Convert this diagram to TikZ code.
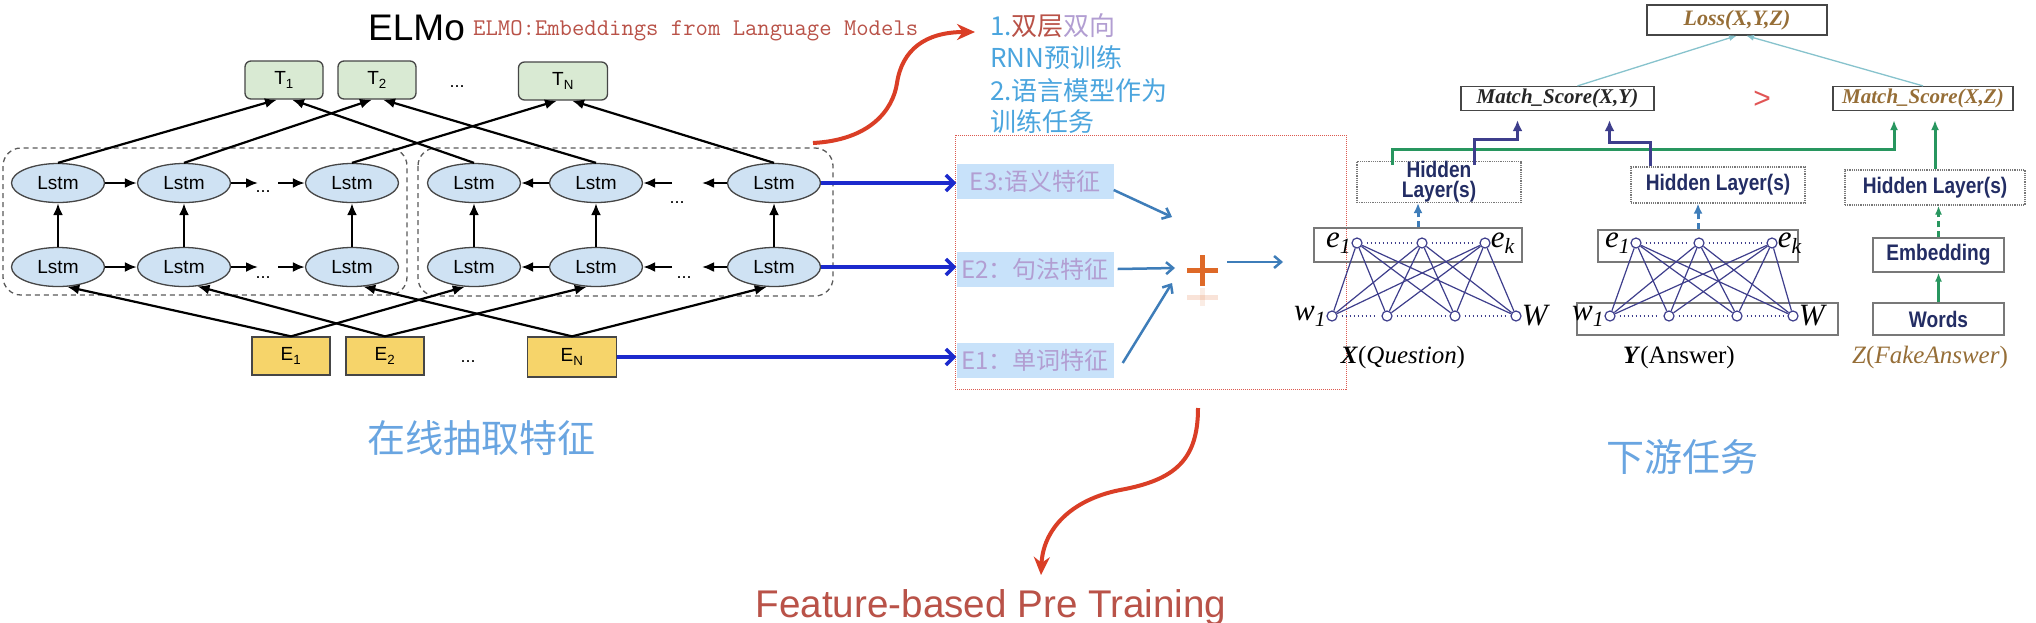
\documentclass[tikz,border=0pt]{standalone}
\usepackage{fontspec}
\usetikzlibrary{shapes.geometric,arrows.meta,calc}
\newfontfamily\arialf{Liberation Sans}
\newfontfamily\narrowf[FakeStretch=0.85]{Liberation Sans}
\newfontfamily\cjkf{Noto Sans CJK SC}
\newfontfamily\serf{Liberation Serif}
\newcommand\fsz[1]{\fontsize{#1}{#1}\selectfont}
\definecolor{lstmfill}{RGB}{207,226,243}
\definecolor{tfill}{RGB}{217,234,211}
\definecolor{efill}{RGB}{246,212,106}
\definecolor{edgec}{RGB}{70,70,70}
\definecolor{grpc}{RGB}{90,90,90}
\definecolor{bluea}{RGB}{28,42,205}
\definecolor{steel}{RGB}{62,125,185}
\definecolor{redarr}{RGB}{218,62,38}
\definecolor{redtxt}{RGB}{185,82,72}
\definecolor{lav}{RGB}{178,158,210}
\definecolor{skyb}{RGB}{75,165,222}
\definecolor{cnblue}{RGB}{105,165,225}
\definecolor{ebg}{RGB}{200,226,250}
\definecolor{navy}{RGB}{62,62,140}
\definecolor{greena}{RGB}{40,150,95}
\definecolor{tealc}{RGB}{135,195,205}
\definecolor{brownt}{RGB}{150,110,55}
\definecolor{boxg}{RGB}{120,120,120}
\definecolor{orangep}{RGB}{222,105,40}
\definecolor{pinkr}{RGB}{225,85,85}
\definecolor{hiddenc}{RGB}{35,45,100}
\definecolor{redbox}{RGB}{220,90,80}
\begin{document}
\begin{tikzpicture}[x=1pt,y=-1pt,
  lstm/.style={ellipse,draw=edgec,line width=1.3pt,fill=lstmfill,minimum width=93pt,minimum height=39pt,inner sep=0pt,font=\arialf\fsz{19}},
  tbox/.style={rectangle,rounded corners=6pt,draw=edgec,line width=1.3pt,fill=tfill,minimum width=78pt,minimum height=38pt,inner sep=0pt,font=\arialf\fsz{19}},
  ebox/.style={rectangle,draw=edgec,line width=1.3pt,fill=efill,minimum width=78pt,minimum height=38pt,inner sep=0pt,font=\arialf\fsz{19}},
  dotsn/.style={inner sep=0pt,font=\arialf\fsz{18}},
  grp/.style={draw=grpc,dash pattern=on 5pt off 4pt,line width=1.3pt,rounded corners=18pt},
  arr/.style={-{Latex[length=12pt,width=10pt]},line width=2.2pt,black},
  bluearr/.style={-{Straight Barb[length=8pt,width=16pt]},line width=3.5pt,bluea},
  steelarr/.style={-{Straight Barb[length=7pt,width=12pt]},line width=2.5pt,steel},
  redcurve/.style={-{Stealth[length=18pt,width=16pt]},line width=4pt,redarr},
  featbox/.style={rectangle,fill=ebg,minimum width=157pt,minimum height=35pt,inner sep=0pt,text=lav,font=\cjkf\fsz{24}},
  sbox/.style={rectangle,draw=edgec,line width=1.2pt,fill=white,inner sep=0pt,minimum height=24pt},
  hbox/.style={rectangle,draw=boxg,densely dotted,line width=1.2pt,fill=white,inner sep=0pt,text=hiddenc,font=\narrowf\bfseries\fsz{22.5},align=center},
  nbox/.style={rectangle,draw=boxg,line width=1.2pt,inner sep=0pt},
  wbox/.style={rectangle,draw=boxg,line width=1.2pt,fill=white,inner sep=0pt,text=hiddenc,font=\narrowf\bfseries\fsz{22.5}},
  circ/.style={circle,draw=navy,line width=1.2pt,fill=white,minimum size=10pt,inner sep=0pt},
  net/.style={navy,line width=1.2pt},
  dotl/.style={navy,line width=1.6pt,dash pattern=on 1.5pt off 2.5pt,shorten >=4pt,shorten <=4pt},
  lbl/.style={inner sep=0pt,font=\serf\itshape\fsz{31}},
  navyarr/.style={-{Latex[length=11pt,width=10pt]},line width=3pt,navy,shorten >=9pt},
  greenarr/.style={-{Latex[length=10pt,width=8pt]},line width=3pt,greena,shorten >=9pt},
  tealarr/.style={-{Latex[length=8pt,width=6pt]},line width=1.3pt,tealc},
]
\fill[white] (0,0) rectangle (2036,622);
\useasboundingbox (0,0) rectangle (2036,622);

% ---------------- ELMo ----------------
\node[anchor=base west,inner sep=0pt,font=\arialf\fsz{37}] (elmo) at (368,40) {ELMo};
\node[anchor=base west,inner sep=0pt,font=\ttfamily\fsz{24},text=redtxt] (elmosub) at (473,35) {ELMO:Embeddings from Language Models};

\draw[grp] (3,148) rectangle (407,295);
\draw[grp] (418,148) rectangle (833,296);

\node[tbox] (T1) at (284,80) {T\textsubscript{1}};
\node[tbox] (T2) at (377,80) {T\textsubscript{2}};
\node[dotsn] (td) at (457,87) {...};
\node[tbox,minimum width=89pt] (TN) at (563,81) {T\textsubscript{N}};

\node[lstm] (L1) at (58,183) {Lstm};
\node[lstm] (L2) at (184,183) {Lstm};
\node[lstm] (L3) at (352,183) {Lstm};
\node[lstm] (R1) at (474,183) {Lstm};
\node[lstm] (R2) at (596,183) {Lstm};
\node[lstm] (R3) at (774,183) {Lstm};
\node[lstm] (LB1) at (58,267) {Lstm};
\node[lstm] (LB2) at (184,267) {Lstm};
\node[lstm] (LB3) at (352,267) {Lstm};
\node[lstm] (RB1) at (474,267) {Lstm};
\node[lstm] (RB2) at (596,267) {Lstm};
\node[lstm] (RB3) at (774,267) {Lstm};

\node[dotsn] (ld1) at (263,192) {...};
\node[dotsn] (ld2) at (263,278) {...};
\node[dotsn] (rd1) at (677,203) {...};
\node[dotsn] (rd2) at (684,278) {...};

\node[ebox] (E1) at (291,356) {E\textsubscript{1}};
\node[ebox] (E2) at (385,356) {E\textsubscript{2}};
\node[dotsn] (ed) at (468,362) {...};
\node[ebox,minimum width=89pt,minimum height=40pt] (EN) at (572,357) {E\textsubscript{N}};

% horizontal arrows
\coordinate (la1) at (258,183); \coordinate (la2) at (278,183);
\coordinate (lb1) at (258,267); \coordinate (lb2) at (278,267);
\coordinate (ra1) at (672,183); \coordinate (ra2) at (702,183);
\coordinate (rb1) at (672,267); \coordinate (rb2) at (702,267);
\draw[arr] (L1) -- (L2);
\draw[arr] (L2) -- (la1);
\draw[arr] (la2) -- (L3);
\draw[arr] (LB1) -- (LB2);
\draw[arr] (LB2) -- (lb1);
\draw[arr] (lb2) -- (LB3);
\draw[arr] (R2) -- (R1);
\draw[arr] (ra1) -- (R2);
\draw[arr] (R3) -- (ra2);
\draw[arr] (RB2) -- (RB1);
\draw[arr] (rb1) -- (RB2);
\draw[arr] (RB3) -- (rb2);
% vertical arrows
\foreach \c in {1,2,3} {
  \draw[arr] (LB\c) -- (L\c);
  \draw[arr] (RB\c) -- (R\c);
}
% E -> Lstm
\draw[arr] (E1.north) -- (LB1.-65);
\draw[arr] (E1.north) -- (RB1.-115);
\draw[arr] (E2.north) -- (LB2.-55);
\draw[arr] (E2.north) -- (RB2.-115);
\draw[arr] (EN.north) -- (LB3.-60);
\draw[arr] (EN.north) -- (RB3.-110);
% Lstm -> T
\draw[arr] (L1.north) -- ($(T1.south)+(-7,0)$);
\draw[arr] (R1.north) -- ($(T1.south)+(8,0)$);
\draw[arr] (L2.north) -- ($(T2.south)+(-5,0)$);
\draw[arr] (R2.north) -- ($(T2.south)+(6,0)$);
\draw[arr] (L3.north) -- ($(TN.south)+(-6,0)$);
\draw[arr] (R3.north) -- ($(TN.south)+(9,0)$);

% ---------------- middle ----------------
\node[anchor=base west,inner sep=0pt,font=\cjkf\fsz{26},text=skyb] (n1) at (990,35) {1.\textcolor{redtxt}{双层}\textcolor{lav}{双向}};
\node[anchor=base west,inner sep=0pt,font=\cjkf\fsz{26},text=skyb] (n2) at (990,67) {RNN预训练};
\node[anchor=base west,inner sep=0pt,font=\cjkf\fsz{26},text=skyb] (n3) at (990,100) {2.语言模型作为};
\node[anchor=base west,inner sep=0pt,font=\cjkf\fsz{26},text=skyb] (n4) at (990,131) {训练任务};

\draw[redbox,line width=1pt,densely dotted] (955,135) rectangle (1346,389);

\node[featbox] (E3b) at (1035,181) {E3:语义特征};
\node[featbox] (E2b) at (1035,269) {E2：句法特征};
\node[featbox] (E1b) at (1035,360) {E1：单词特征};

\draw[bluearr] (R3.east) -- (R3.east -| E3b.west);
\draw[bluearr] (RB3.east) -- (RB3.east -| E2b.west);
\draw[bluearr] (EN.east) -- (EN.east -| E1b.west);

\coordinate (plus) at (1202,270);
\draw[orangep,line width=5pt] (1187,270) -- (1218,270);
\draw[orangep,line width=5pt] (1202,255) -- (1202,286);
\draw[orangep,line width=5pt,opacity=0.18] (1187,297) -- (1218,297);
\draw[orangep,line width=5pt,opacity=0.12] (1202,288) -- (1202,306);

\coordinate (p3) at (1172,217);
\coordinate (p2) at (1175,268);
\coordinate (p1) at (1172,283);
\draw[steelarr] ($(E3b.east)+(0,9)$) -- (p3);
\draw[steelarr] ($(E2b.east)+(4,0)$) -- (p2);
\draw[steelarr] ($(E1b.east)+(9,3)$) -- (p1);
\coordinate (po1) at (1227,262);
\coordinate (po2) at (1283,262);
\draw[steelarr] (po1) -- (po2);

\coordinate (rc1) at (813,143);
\coordinate (rc2) at (975,32);
\draw[redcurve] (rc1) .. controls (870,140) and (893,110) .. (897,83) .. controls (902,50) and (925,32) .. (rc2);
\coordinate (rc3) at (1198,408);
\coordinate (rc4) at (1041,575);
\draw[redcurve] (rc3) .. controls (1198,460) and (1175,480) .. (1120,490) .. controls (1070,500) and (1043,530) .. (rc4);

\node[anchor=base,inner sep=0pt,font=\arialf\fsz{38.6},text=redtxt] (fb) at (991,617) {Feature-based Pre Training};
\node[inner sep=0pt,font=\cjkf\fsz{38},text=cnblue] (zx) at (481,438) {在线抽取特征};
\node[inner sep=0pt,font=\cjkf\fsz{38},text=cnblue] (xy) at (1682,457) {下游任务};

% ---------------- right ----------------
\node[sbox,minimum width=180pt,minimum height=30pt,text=brownt,font=\serf\bfseries\itshape\fsz{22}] (loss) at (1737,20) {Loss(X,Y,Z)};
\node[sbox,minimum width=193pt,text=black!85,font=\serf\bfseries\itshape\fsz{21}] (msxy) at (1557.5,98.5) {Match\_Score(X,Y)};
\node[sbox,minimum width=180pt,text=brownt,font=\serf\bfseries\itshape\fsz{21}] (msxz) at (1923,98.5) {Match\_Score(X,Z)};
\node[inner sep=0pt,text=pinkr,font=\arialf\fsz{30}] (gt) at (1762,100) {>};

\draw[tealarr] ($(msxy.north)+(20,0)$) -- (loss.south);
\draw[tealarr] (msxz.north) -- ($(loss.south)+(9,0)$);

\node[hbox,minimum width=164pt,minimum height=37pt,font=\narrowf\bfseries\fontsize{22.5}{20}\selectfont] (H1) at (1439,182) {Hidden\\Layer(s)};
\node[hbox,minimum width=174pt,minimum height=36pt] (H2) at (1718,185) {Hidden Layer(s)};
\node[hbox,minimum width=180pt,minimum height=35pt] (H3) at (1935,187.5) {Hidden Layer(s)};

\draw[greenarr] ($(H1.north)+(-47,4)$) -- ++(0,-15) -| ($(msxz.south)+(-29,0)$);
\draw[greenarr] (H3.north) -- (H3.north |- msxz.south);
\draw[navyarr] ($(H1.north)+(35,4)$) -- ++(0,-25) -| ($(msxy.south)+(-40,0)$);
\draw[navyarr] ($(H2.north)+(-68,0)$) -- ++(0,-24) -| ($(msxy.south)+(52,0)$);

% X network
\node[nbox,minimum width=208pt,minimum height=34pt] (xtop) at (1418,245) {};
\node[circ] (xe1) at (1357,243) {};
\node[circ] (xe2) at (1422,243) {};
\node[circ] (xe3) at (1485,243) {};
\node[circ] (xw1) at (1332,316) {};
\node[circ] (xw2) at (1387,316) {};
\node[circ] (xw3) at (1455,316) {};
\node[circ] (xw4) at (1516,316) {};
\foreach \a in {xe1,xe2,xe3} \foreach \b in {xw1,xw2,xw3,xw4} \draw[net] (\a) -- (\b);
\draw[dotl] (xe1) -- (xe2); \draw[dotl] (xe2) -- (xe3);
\draw[dotl] (xw1) -- (xw2); \draw[dotl] (xw2) -- (xw3); \draw[dotl] (xw3) -- (xw4);
\node[lbl,anchor=east] (xl1) at (xe1.west) {e\textsubscript{1}};
\node[lbl,anchor=west] (xl2) at (xe3.east) {e\textsubscript{k}};
\node[lbl,anchor=east] (xl3) at (xw1.west) {w\textsubscript{1}};
\node[lbl,anchor=west] (xl4) at (xw4.east) {W};
\draw[-{Latex[length=10pt,width=9pt]},steel,line width=3pt,dash pattern=on 6pt off 4pt] (xtop.north) -- (xtop.north |- H1.south);
\node[inner sep=0pt,font=\serf\fsz{25}] (xq) at (1403,357) {\textbf{\textit{X}}(\textit{Question})};

% Y network
\node[nbox,minimum width=200pt,minimum height=32pt] (ytop) at (1698,246) {};
\node[nbox,minimum width=261pt,minimum height=32pt] (ybot) at (1707.5,319) {};
\node[circ] (ye1) at (1636,243) {};
\node[circ] (ye2) at (1699,243) {};
\node[circ] (ye3) at (1772,243) {};
\node[circ] (yw1) at (1610,316) {};
\node[circ] (yw2) at (1669,316) {};
\node[circ] (yw3) at (1737,316) {};
\node[circ] (yw4) at (1793,316) {};
\foreach \a in {ye1,ye2,ye3} \foreach \b in {yw1,yw2,yw3,yw4} \draw[net] (\a) -- (\b);
\draw[dotl] (ye1) -- (ye2); \draw[dotl] (ye2) -- (ye3);
\draw[dotl] (yw1) -- (yw2); \draw[dotl] (yw2) -- (yw3); \draw[dotl] (yw3) -- (yw4);
\node[lbl,anchor=east] (yl1) at (ye1.west) {e\textsubscript{1}};
\node[lbl,anchor=west] (yl2) at (ye3.east) {e\textsubscript{k}};
\node[lbl,anchor=east] (yl3) at (yw1.west) {w\textsubscript{1}};
\node[lbl,anchor=west] (yl4) at (yw4.east) {W};
\draw[-{Latex[length=10pt,width=9pt]},steel,line width=3pt,dash pattern=on 6pt off 4pt] (ytop.north) -- (ytop.north |- H2.south);
\node[inner sep=0pt,font=\serf\fsz{25}] (ya) at (1679,357) {\textbf{\textit{Y}}(Answer)};

% Z column
\node[wbox,minimum width=131pt,minimum height=34pt] (emb) at (1938.5,255) {Embedding};
\node[wbox,minimum width=131pt,minimum height=32pt] (words) at (1938.5,319) {Words};
\draw[-{Latex[length=9pt,width=7pt]},greena,line width=2.5pt,dash pattern=on 6pt off 4pt] (emb.north) -- (emb.north |- H3.south);
\draw[-{Latex[length=9pt,width=7pt]},greena,line width=2.5pt] (words.north) -- (emb.south);
\node[inner sep=0pt,font=\serf\fsz{25},text=brownt] (zf) at (1930,357) {\textit{Z}(\textit{FakeAnswer})};
\end{tikzpicture}
\end{document}
